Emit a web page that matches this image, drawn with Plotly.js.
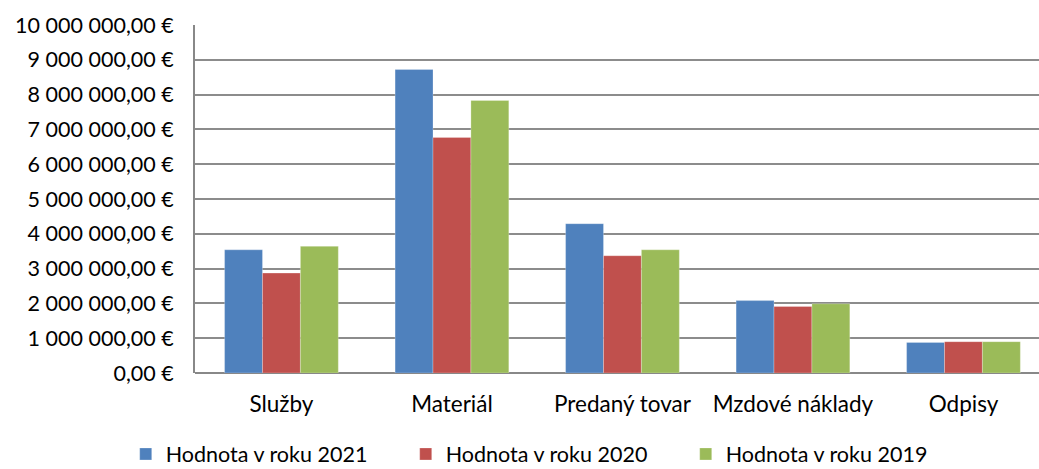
<!DOCTYPE html>
<html>
<head>
<meta charset="utf-8">
<script src="https://cdn.plot.ly/plotly-3.0.1.min.js"></script>
<style>html,body{margin:0;padding:0;background:#fff;}#chart{width:1039px;height:469px;}</style>
</head>
<body>
<div id="chart"></div>
<script>
const categories = ["Služby", "Materiál", "Predaný tovar", "Mzdové náklady", "Odpisy"];
const values2021 = [3540000, 8720000, 4290000, 2080000, 880000];
const values2020 = [2870000, 6770000, 3370000, 1910000, 900000];
const values2019 = [3640000, 7830000, 3540000, 1990000, 900000];
const seriesNames = ["Hodnota v roku 2021", "Hodnota v roku 2020", "Hodnota v roku 2019"];
const seriesColors = ["#4F81BD", "#C0504D", "#9BBB59"];
const yTickVals = [0, 1000000, 2000000, 3000000, 4000000, 5000000, 6000000, 7000000, 8000000, 9000000, 10000000];
const yTickText = ["0,00 €", "1 000 000,00 €", "2 000 000,00 €", "3 000 000,00 €", "4 000 000,00 €", "5 000 000,00 €", "6 000 000,00 €", "7 000 000,00 €", "8 000 000,00 €", "9 000 000,00 €", "10 000 000,00 €"];

const allValues = [values2021, values2020, values2019];
const traces = allValues.map((vals, i) => ({
  type: "bar",
  name: seriesNames[i],
  x: categories,
  y: vals,
  marker: {color: seriesColors[i], line: {color: "rgba(255,255,255,0.5)", width: 0.5}},
  hoverinfo: "skip"
}));

const fam = "Lato, 'Open Sans', sans-serif";

const layout = {
  width: 1039,
  height: 469,
  margin: {l: 195, r: 0, t: 25, b: 96, pad: 0},
  paper_bgcolor: "#fff",
  plot_bgcolor: "#fff",
  font: {family: fam, size: 21, color: "#000"},
  barmode: "group",
  bargap: 0.333,
  bargroupgap: 0,
  showlegend: true,
  legend: {
    orientation: "h",
    xref: "container", yref: "container",
    x: 0.121, xanchor: "left",
    y: 0.032, yanchor: "middle",
    entrywidth: 235, entrywidthmode: "pixels",
    font: {family: fam, size: 21.5, color: "#000"},
    traceorder: "normal",
    bgcolor: "rgba(0,0,0,0)"
  },
  xaxis: {
    type: "category",
    range: [-0.507, 4.443],
    showline: false,
    showgrid: false,
    zeroline: false,
    ticks: "",
    ticklabelstandoff: 15,
    tickfont: {family: fam, size: 22.5, color: "#000"},
    fixedrange: true
  },
  yaxis: {
    range: [0, 10000000],
    tickvals: yTickVals,
    ticktext: yTickText,
    showline: true,
    linecolor: "#888888",
    linewidth: 2,
    showgrid: true,
    gridcolor: "#8c8c8c",
    gridwidth: 2,
    zeroline: true,
    zerolinecolor: "#888888",
    zerolinewidth: 2,
    ticks: "",
    ticklabelstandoff: 15,
    tickfont: {family: fam, size: 21.5, color: "#000"},
    fixedrange: true
  }
};

Plotly.newPlot("chart", traces, layout, {displayModeBar: false, staticPlot: true});
</script>
</body>
</html>
